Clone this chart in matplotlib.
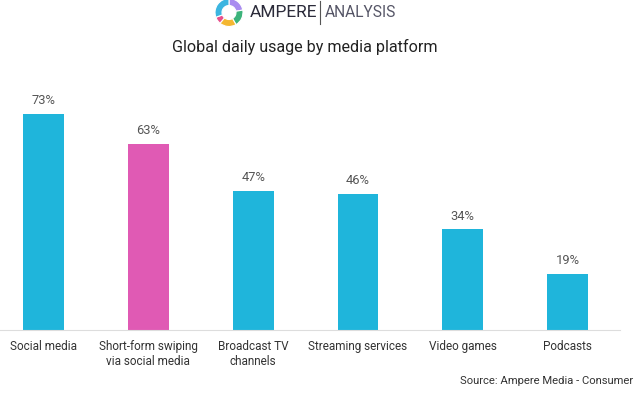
import matplotlib.pyplot as plt
from matplotlib.patches import Wedge

plt.rcParams['font.family'] = ['Roboto', 'DejaVu Sans']

# data
categories = ["Social media", "Short-form swiping\nvia social media", "Broadcast TV\nchannels",
              "Streaming services", "Video games", "Podcasts"]
values = [73, 63, 47, 46, 34, 19]
bar_colors = ["#1fb5db", "#e05ab4", "#1fb5db", "#1fb5db", "#1fb5db", "#1fb5db"]

fig = plt.figure(figsize=(6.4, 3.94), dpi=100)
ax = fig.add_axes([0, 1 - 330 / 394, 620 / 640, 230 / 394])

x = list(range(len(categories)))
ax.bar(x, values, width=0.39, color=bar_colors)
for xi, v in zip(x, values):
    ax.text(xi, v + 2.3, f"{v}%", ha="center", va="bottom", fontsize=9.3, color="#555555")

ax.set_xlim(-0.415, 5.5)
ax.set_ylim(0, 230 / 2.96)
ax.set_yticks([])
ax.set_xticks(x)
ax.set_xticklabels(categories, fontsize=8.5, color="#333333", linespacing=1.25)
ax.tick_params(axis="x", length=0, pad=7)
for s in ["top", "right", "left"]:
    ax.spines[s].set_visible(False)
ax.spines["bottom"].set_color("#dddddd")
ax.spines["bottom"].set_linewidth(0.8)

# title and source
fig.text(305 / 640, 1 - 47 / 394, "Global daily usage by media platform", ha="center", va="center",
         fontsize=11.6, color="#222222")
fig.text(633 / 640, 1 - 381 / 394, "Source: Ampere Media - Consumer", ha="right", va="center",
         fontsize=8.1, color="#333333")

# logo
lax = fig.add_axes([0, 0, 1, 1])
lax.set_xlim(0, 640)
lax.set_ylim(394, 0)
lax.set_aspect("equal")
lax.axis("off")
cx, cy, r = 229, 12.5, 14
segs = [(-90, -10, "#a98cf0"), (-10, 60, "#3cb37a"), (60, 130, "#f4b731"),
        (130, 160, "#e8508c"), (160, 270, "#3cb5e0")]
for t1, t2, c in segs:
    lax.add_patch(Wedge((cx, cy), r, t1, t2, width=7, facecolor=c, edgecolor="white", linewidth=0.8))
lax.text(250, 12.5, "AMPERE", ha="left", va="center", fontsize=12.5, color="#2b2b3a")
lax.plot([320, 320], [1, 24], color="#555555", linewidth=0.8)
lax.text(325, 12.5, "ANALYSIS", ha="left", va="center", fontsize=11.2, color="#555566")

fig.savefig("out.png", dpi=100)
